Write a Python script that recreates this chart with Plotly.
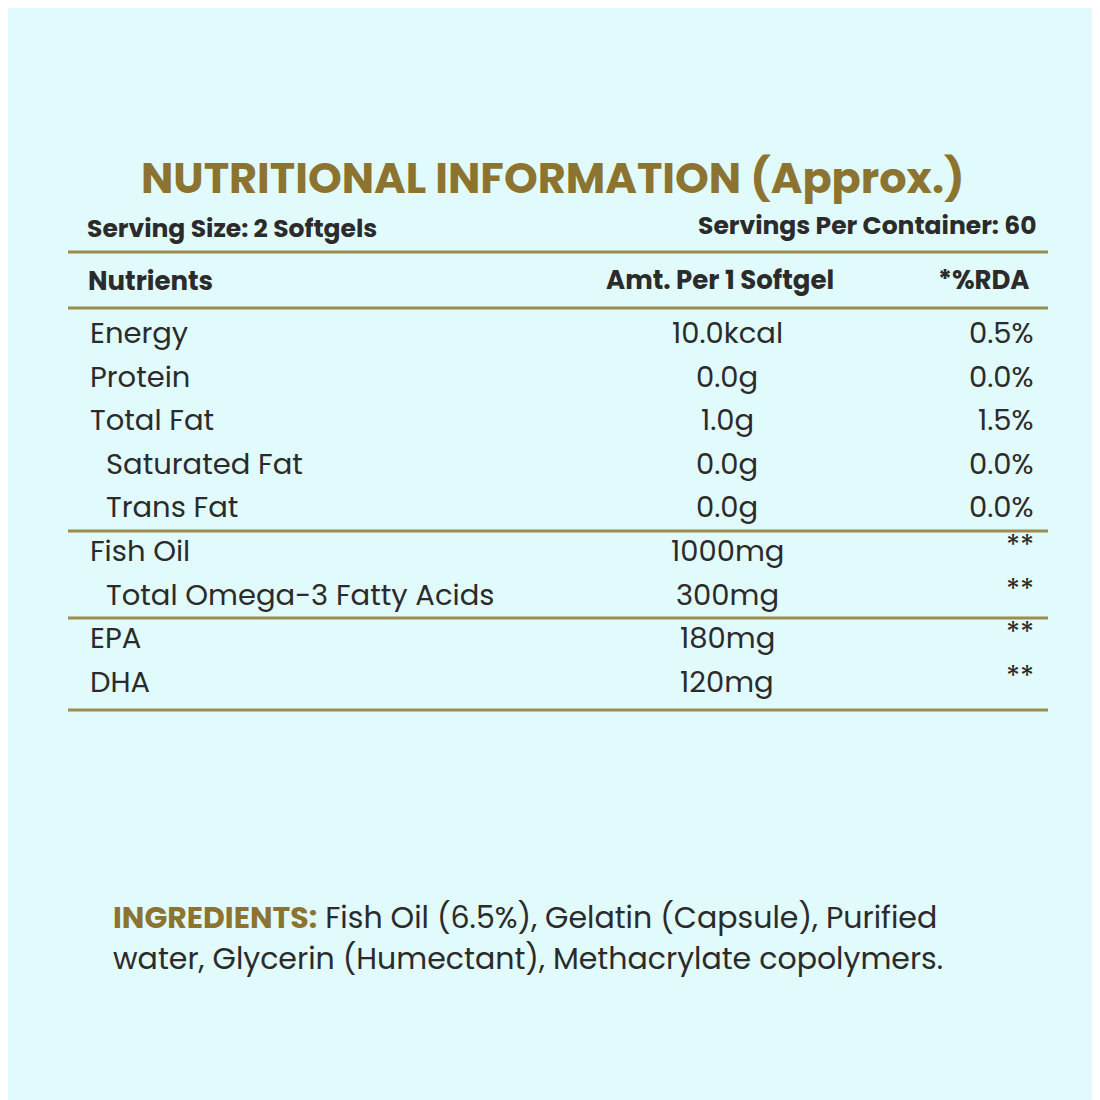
import plotly.graph_objects as go

title = "NUTRITIONAL INFORMATION (Approx.)"
serving_size = "Serving Size: 2 Softgels"
servings = "Servings Per Container: 60"
headers = ["Nutrients", "Amt. Per 1 Softgel", "*%RDA"]
nutrients = ["Energy", "Protein", "Total Fat", "Saturated Fat", "Trans Fat",
             "Fish Oil", "Total Omega-3 Fatty Acids", "EPA", "DHA"]
levels = [0, 0, 0, 1, 1, 0, 1, 0, 0]
amounts = ["10.0kcal", "0.0g", "1.0g", "0.0g", "0.0g", "1000mg", "300mg", "180mg", "120mg"]
rda = ["0.5%", "0.0%", "1.5%", "0.0%", "0.0%", "**", "**", "**", "**"]
ingredients_label = "INGREDIENTS:"
ingredients_l1 = " Fish Oil (6.5%), Gelatin (Capsule), Purified"
ingredients_l2 = "water, Glycerin (Humectant), Methacrylate copolymers."

GOLD = "#8C7330"
LINE = "#9E8B4E"
TXT = "#2B2B2B"
BG = "#E1FAFC"
F = "Poppins, Inter, Open Sans, sans-serif"

fig = go.Figure()
ann = []
def t(x, y, s, size, color=TXT, anchor="left", bold=False):
    ann.append(dict(x=x, y=y, text=f"<b>{s}</b>" if bold else s, showarrow=False,
                    xanchor=anchor, yanchor="middle", font=dict(family=F, size=size, color=color)))

t(545, 170, title, 43, GOLD, "center", True)
t(77, 220, serving_size, 25, TXT, "left", True)
t(1030, 217, servings, 25, TXT, "right", True)
t(78, 273, headers[0], 26, TXT, "left", True)
t(712, 272, headers[1], 26, TXT, "center", True)
t(1024, 272, headers[2], 26, TXT, "right", True)

y0, dy = 325, 43.6
for i, (n, lv, a, r) in enumerate(zip(nutrients, levels, amounts, rda)):
    y = y0 + i * dy
    t(80 + 16 * lv, y, n, 29)
    t(719, y, a, 29, anchor="center")
    t(1028, y - (6 if r == "**" else 0), r, 29, anchor="right")

t(103, 909, f"<b><span style='color:{GOLD}'>{ingredients_label}</span></b>{ingredients_l1}", 30)
t(103, 950, ingredients_l2, 30)

shapes = [dict(type="line", x0=60, x1=1040, y0=yy, y1=yy, line=dict(color=LINE, width=3))
          for yy in [244, 300, 523, 610, 702]]

fig.update_layout(width=1100, height=1100, margin=dict(l=0, r=0, t=0, b=0),
                  paper_bgcolor=BG, plot_bgcolor=BG, annotations=ann, shapes=shapes,
                  xaxis=dict(range=[0, 1100], visible=False, fixedrange=True),
                  yaxis=dict(range=[1100, 0], visible=False, fixedrange=True),
                  showlegend=False)
fig.write_html("out.html", config={"displayModeBar": False})
